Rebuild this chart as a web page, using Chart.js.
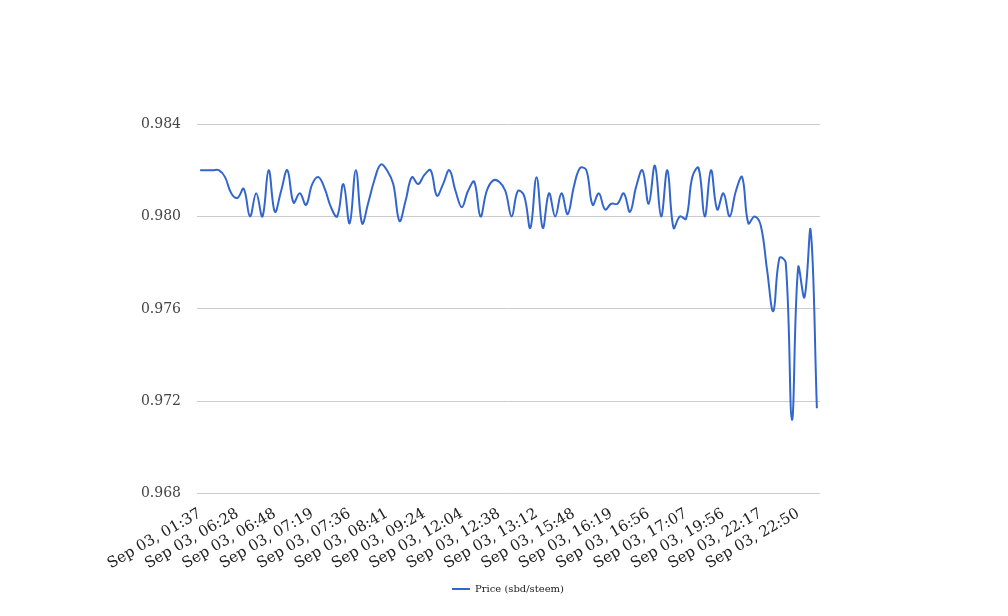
<!DOCTYPE html>
<html>
<head>
<meta charset="utf-8">
<title>Price (sbd/steem)</title>
<script src="https://cdn.jsdelivr.net/npm/chart.js@4/dist/chart.umd.min.js"></script>
<style>
  html, body { margin: 0; padding: 0; background: #fff; }
  #wrap { width: 1008px; height: 616px; }
</style>
</head>
<body>
<div id="wrap"><canvas id="priceChart" width="1008" height="616"></canvas></div>
<script>
// tick labels shown on the x axis (one every 6 trades)
const tickLabels = [
    'Sep 03, 01:37', 'Sep 03, 06:28', 'Sep 03, 06:48', 'Sep 03, 07:19',
    'Sep 03, 07:36', 'Sep 03, 08:41', 'Sep 03, 09:24', 'Sep 03, 12:04',
    'Sep 03, 12:38', 'Sep 03, 13:12', 'Sep 03, 15:48', 'Sep 03, 16:19',
    'Sep 03, 16:56', 'Sep 03, 17:07', 'Sep 03, 19:56', 'Sep 03, 22:17',
    'Sep 03, 22:50'
];
const labelEvery = 6;

// price of each trade, sbd per steem
const prices = [
    0.9820, 0.9820, 0.9820, 0.9820, 0.9817, 0.9810, 0.9808, 0.9812, 0.9800, 0.9810,
    0.9800, 0.9820, 0.9802, 0.9811, 0.9820, 0.9806, 0.9810, 0.9805, 0.9814, 0.9817,
    0.9812, 0.9804, 0.9800, 0.9814, 0.9797, 0.9820, 0.9797, 0.9806, 0.9816, 0.98225,
    0.9820, 0.9814, 0.9798, 0.9807, 0.9817, 0.9814, 0.9818, 0.9820, 0.9809, 0.9814,
    0.9820, 0.9811, 0.9804, 0.9811, 0.9815, 0.9800, 0.9811, 0.98155, 0.9815, 0.9811,
    0.9800, 0.9811, 0.9809, 0.9795, 0.9817, 0.9795, 0.9810, 0.9800, 0.9810, 0.9801,
    0.9813, 0.9821, 0.9820, 0.9805, 0.9810, 0.9803, 0.98055, 0.98055, 0.9810, 0.9802,
    0.9813, 0.9820, 0.98055, 0.9822, 0.9800, 0.9820, 0.9795, 0.9800, 0.9799, 0.9817,
    0.9821, 0.9800, 0.9820, 0.9803, 0.9810, 0.9800, 0.9811, 0.9817, 0.9797, 0.9800,
    0.9796, 0.9777, 0.9759, 0.9782, 0.9780, 0.9712, 0.9778, 0.9765, 0.9794, 0.9717
];

// y axis range and step
const yMin = 0.968;
const yMax = 0.984;
const yStep = 0.004;

function createPriceChart() {
    const categories = prices.map((_, i) => i % labelEvery === 0 ? tickLabels[i / labelEvery] : '');
    const ctx = document.getElementById('priceChart').getContext('2d');

    Chart.defaults.font.family = '"DejaVu Serif", serif';

    new Chart(ctx, {
        type: 'line',
        data: {
            labels: categories,
            datasets: [{
                label: 'Price (sbd/steem)',
                data: prices,
                borderColor: '#3366cc',
                backgroundColor: '#3366cc',
                borderWidth: 2,
                pointRadius: 0,
                pointHoverRadius: 0,
                tension: 0.4,
                fill: false,
                yAxisID: 'y'
            }]
        },
        options: {
            responsive: false,
            animation: false,
            layout: {
                padding: { top: 124, left: 8, right: 0, bottom: 12 }
            },
            scales: {
                x: {
                    offset: true,
                    grid: { display: false, drawTicks: false },
                    border: { display: false },
                    ticks: {
                        autoSkip: false,
                        minRotation: 30,
                        maxRotation: 30,
                        padding: 11,
                        color: '#222',
                        font: { size: 15 }
                    },
                    afterFit: (axis) => { axis.height -= 9; }
                },
                y: {
                    min: yMin,
                    max: yMax,
                    grid: { color: '#cccccc', drawTicks: false },
                    border: { display: false },
                    ticks: {
                        stepSize: yStep,
                        padding: 16,
                        color: '#444',
                        font: { size: 14 },
                        callback: (value) => value.toFixed(3)
                    },
                    afterFit: (axis) => { axis.width = 189; }
                },
                // empty right margin so the legend centres on the page
                yRight: {
                    position: 'right',
                    grid: { display: false, drawTicks: false },
                    border: { display: false },
                    ticks: { display: false },
                    afterFit: (axis) => { axis.width = 188; }
                }
            },
            plugins: {
                legend: {
                    position: 'bottom',
                    labels: {
                        usePointStyle: true,
                        pointStyle: 'line',
                        pointStyleWidth: 18,
                        padding: 9,
                        color: '#222',
                        font: { size: 10 }
                    }
                },
                tooltip: { enabled: false }
            }
        }
    });
}

document.addEventListener('DOMContentLoaded', createPriceChart);
</script>
</body>
</html>
